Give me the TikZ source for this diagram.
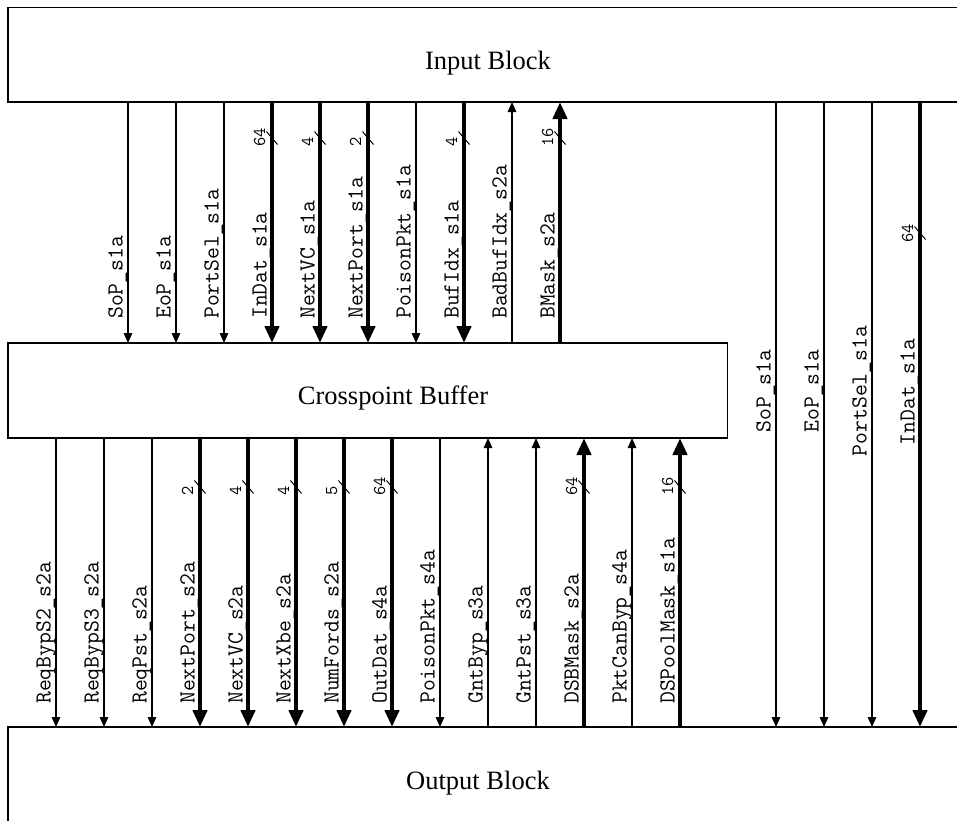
\documentclass[tikz,border=0pt]{standalone}
\usepackage{fontspec}
\setmainfont{Liberation Serif}
\usetikzlibrary{arrows.meta}
\begin{document}
\begin{tikzpicture}[x=1pt,y=-1pt,
  box/.style={draw,line width=1.3pt,inner sep=0pt,outer sep=0pt},
  boxtext/.style={anchor=base,inner sep=0pt,font=\fontsize{26.5}{30}\selectfont},
  sig/.style={line width=1.3pt,-{Triangle[width=8.5pt,length=10pt]}},
  bus/.style={line width=4.5pt,-{Triangle[width=14pt,length=17pt]}},
  siglab/.style={rotate=90,anchor=base west,inner sep=0pt,font=\fontsize{23}{26}\ttfamily},
  midlab/.style={rotate=90,anchor=base,inner sep=0pt,font=\fontsize{23}{26}\ttfamily},
  buslab/.style={rotate=90,anchor=base west,inner sep=0pt,font=\fontsize{18}{20}\ttfamily},
  slash/.style={line width=1pt}
]
\useasboundingbox (0,0) rectangle (957,820);
\fill[white] (0,0) rectangle (957,820);

% blocks
\node[box,minimum width=962pt,minimum height=94.5pt,anchor=north west] (in) at (8,7.5) {};
\node[boxtext] (intext) at (488,69) {Input Block};
\node[box,minimum width=719.5pt,minimum height=95pt,anchor=north west] (xb) at (8,343) {};
\node[boxtext] (xbtext) at (393,404) {Crosspoint Buffer};
\node[box,minimum width=962pt,minimum height=150pt,anchor=north west] (out) at (8,727) {};
\node[boxtext] (outtext) at (478,789) {Output Block};

% top section: input -> crosspoint (thin, down)
\foreach \x/\t in {128/SoP\_s1a,176/EoP\_s1a,224/PortSel\_s1a,416/PoisonPkt\_s1a}{
  \draw[sig] (\x,0 |- in.south) -- (\x,0 |- xb.north);
  \node[siglab] (ta\x) at (\x-5.5,319) {\t};
}
% top section: buses down
\foreach \x/\t/\n in {272/InDat\_s1a/64,320/NextVC\_s1a/4,368/NextPort\_s1a/2,464/BufIdx\_s1a/4}{
  \draw[bus] (\x,0 |- in.south) -- (\x,0 |- xb.north);
  \node[siglab] (tb\x) at (\x-5.5,319) {\t};
  \draw[slash] (\x-5.5,131.5) -- (\x+5.5,144.5);
  \node[buslab] (tw\x) at (\x-7,147) {\n};
}
% top section: up
\draw[sig] (512,0 |- xb.north) -- (512,0 |- in.south);
\node[siglab] (tc512) at (506.5,319) {BadBufIdx\_s2a};
\draw[bus] (560,0 |- xb.north) -- (560,0 |- in.south);
\node[siglab] (tc560) at (554.5,319) {BMask\_s2a};
\draw[slash] (554.5,131.5) -- (565.5,144.5);
\node[buslab] (tw560) at (553,147) {16};

% bottom section: crosspoint -> output (thin, down)
\foreach \x/\t in {56/ReqBypS2\_s2a,104/ReqBypS3\_s2a,152/ReqPst\_s2a,440/PoisonPkt\_s4a}{
  \draw[sig] (\x,0 |- xb.south) -- (\x,0 |- out.north);
  \node[siglab] (ba\x) at (\x-5.5,704) {\t};
}
\foreach \x/\t/\n in {200/NextPort\_s2a/2,248/NextVC\_s2a/4,296/NextXbe\_s2a/4,344/NumFords\_s2a/5,392/OutDat\_s4a/64}{
  \draw[bus] (\x,0 |- xb.south) -- (\x,0 |- out.north);
  \node[siglab] (bb\x) at (\x-5.5,704) {\t};
  \draw[slash] (\x-5.5,480.5) -- (\x+5.5,493.5);
  \node[buslab] (bw\x) at (\x-7,496) {\n};
}
% bottom section: up
\foreach \x/\t in {488/GntByp\_s3a,536/GntPst\_s3a,632/PktCanByp\_s4a}{
  \draw[sig] (\x,0 |- out.north) -- (\x,0 |- xb.south);
  \node[siglab] (bc\x) at (\x-5.5,704) {\t};
}
\foreach \x/\t/\n in {584/DSBMask\_s2a/64,680/DSPoolMask\_s1a/16}{
  \draw[bus] (\x,0 |- out.north) -- (\x,0 |- xb.south);
  \node[siglab] (bd\x) at (\x-5.5,704) {\t};
  \draw[slash] (\x-5.5,480.5) -- (\x+5.5,493.5);
  \node[buslab] (bw\x) at (\x-7,496) {\n};
}

% right bypass: input -> output
\foreach \x/\t in {776/SoP\_s1a,824/EoP\_s1a,872/PortSel\_s1a}{
  \draw[sig] (\x,0 |- in.south) -- (\x,0 |- out.north);
  \node[midlab] (ra\x) at (\x-5.5,391) {\t};
}
\draw[bus] (920,0 |- in.south) -- (920,0 |- out.north);
\node[midlab] (ra920) at (914.5,392) {InDat\_s1a};
\draw[slash] (914.5,226.5) -- (925.5,239.5);
\node[buslab] (rw920) at (913,243) {64};
\end{tikzpicture}
\end{document}
